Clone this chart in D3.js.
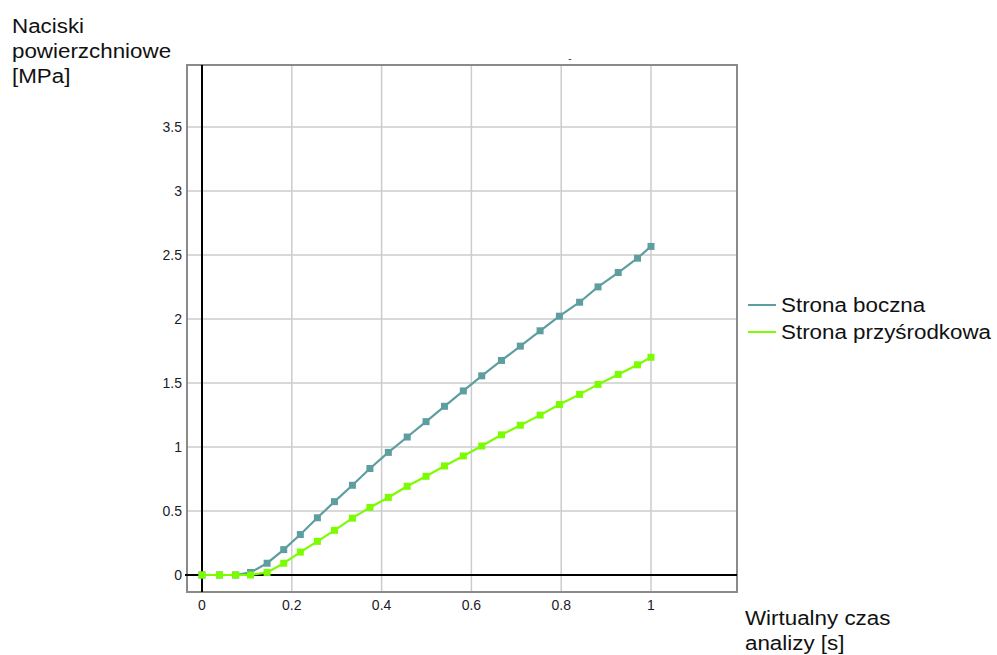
<!DOCTYPE html>
<html><head><meta charset="utf-8">
<script src="https://cdn.jsdelivr.net/npm/d3@7"></script>
<style>body{margin:0;background:#fff}svg{display:block}text{font-family:"Liberation Sans",Arial,sans-serif}</style>
</head><body>
<script>
const times = [0, 0.039, 0.075, 0.108, 0.145, 0.182, 0.219, 0.257, 0.295, 0.335, 0.374, 0.415, 0.457, 0.499, 0.540, 0.582, 0.623, 0.667, 0.709, 0.753, 0.796, 0.841, 0.882, 0.927, 0.970, 1.0];
const stronaBoczna = [0, 0, 0, 0.02, 0.092, 0.198, 0.316, 0.447, 0.573, 0.701, 0.832, 0.958, 1.078, 1.198, 1.318, 1.438, 1.556, 1.676, 1.788, 1.908, 2.022, 2.131, 2.251, 2.363, 2.475, 2.567];
const stronaPrzysrodkowa = [0, 0, 0, 0, 0.02, 0.092, 0.179, 0.263, 0.349, 0.444, 0.528, 0.606, 0.693, 0.771, 0.852, 0.930, 1.008, 1.095, 1.170, 1.249, 1.332, 1.411, 1.489, 1.567, 1.642, 1.701];
const seriesNames = ["Strona boczna", "Strona przyśrodkowa"];
const seriesColors = ["#5f9ea0", "#7cfc00"];
const xTicks = [0, 0.2, 0.4, 0.6, 0.8, 1];
const xTickLabels = ["0", "0.2", "0.4", "0.6", "0.8", "1"];
const yTicks = [0, 0.5, 1, 1.5, 2, 2.5, 3, 3.5];
const yTickLabels = ["0", "0.5", "1", "1.5", "2", "2.5", "3", "3.5"];
const yTitle = ["Naciski", "powierzchniowe", "[MPa]"];
const xTitle = ["Wirtualny czas", "analizy [s]"];

const W = 997, H = 655;
const frame = {left: 187, right: 737, top: 65, bottom: 592};
const x = d3.scaleLinear().domain([0, 1]).range([202, 651]);
const y = d3.scaleLinear().domain([0, 3.5]).range([575, 127]);
const SX = 1.065;

const svg = d3.select("body").append("svg").attr("width", W).attr("height", H);

// grid
svg.append("g").selectAll("line").data(xTicks.filter(d => d !== 0)).join("line")
  .attr("x1", d => x(d)).attr("x2", d => x(d)).attr("y1", frame.top).attr("y2", frame.bottom)
  .attr("stroke", "#cccccc").attr("stroke-width", 1.5);
svg.append("g").selectAll("line").data(yTicks.filter(d => d !== 0)).join("line")
  .attr("y1", d => y(d)).attr("y2", d => y(d)).attr("x1", frame.left).attr("x2", frame.right)
  .attr("stroke", "#cccccc").attr("stroke-width", 1.5);

// frame
svg.append("rect").attr("x", frame.left).attr("y", frame.top)
  .attr("width", frame.right - frame.left).attr("height", frame.bottom - frame.top)
  .attr("fill", "none").attr("stroke", "#8a8a8a").attr("stroke-width", 2);

// zero lines
svg.append("line").attr("x1", x(0)).attr("x2", x(0)).attr("y1", frame.top).attr("y2", frame.bottom)
  .attr("stroke", "#000").attr("stroke-width", 2);
svg.append("line").attr("x1", frame.left - 2).attr("x2", frame.right).attr("y1", y(0)).attr("y2", y(0))
  .attr("stroke", "#000").attr("stroke-width", 2);

// tick labels
svg.append("g").selectAll("text").data(yTicks).join("text")
  .attr("x", 182).attr("y", d => y(d)).attr("dy", "0.35em").attr("text-anchor", "end")
  .attr("font-size", 14).attr("fill", "#1a1a2a").text((d, i) => yTickLabels[i]);
svg.append("g").selectAll("text").data(xTicks).join("text")
  .attr("x", d => x(d)).attr("y", 610).attr("text-anchor", "middle")
  .attr("font-size", 14).attr("fill", "#1a1a2a").text((d, i) => xTickLabels[i]);

// small mark at top
svg.append("text").attr("x", 570).attr("y", 62).attr("font-size", 10).attr("fill", "#333").attr("text-anchor", "middle").text("-");

// series
const allSeries = [stronaBoczna, stronaPrzysrodkowa];
const line = d3.line().x(d => x(d[0])).y(d => y(d[1]));
allSeries.forEach((vals, si) => {
  const pts = times.map((t, i) => [t, vals[i]]);
  const g = svg.append("g");
  g.append("path").attr("d", line(pts)).attr("fill", "none")
    .attr("stroke", seriesColors[si]).attr("stroke-width", 2.2);
  g.selectAll("rect").data(pts).join("rect")
    .attr("x", d => x(d[0]) - 3.5).attr("y", d => y(d[1]) - 3.5)
    .attr("width", 7).attr("height", 7).attr("fill", seriesColors[si]);
});

// legend
const lg = svg.append("g");
seriesNames.forEach((n, i) => {
  const ly = 305 + i * 27;
  lg.append("line").attr("x1", 748).attr("x2", 776).attr("y1", ly).attr("y2", ly)
    .attr("stroke", seriesColors[i]).attr("stroke-width", 2);
  lg.append("text").attr("transform", `translate(781,${ly}) scale(${SX},1)`).attr("dy", "0.35em")
    .attr("font-size", 21).attr("fill", "#111").text(n);
});

// titles
svg.append("g").selectAll("text").data(yTitle).join("text")
  .attr("transform", (d, i) => `translate(12,${33 + i * 25}) scale(${SX},1)`)
  .attr("font-size", 21).attr("fill", "#111").text(d => d);
svg.append("g").selectAll("text").data(xTitle).join("text")
  .attr("transform", (d, i) => `translate(745,${625 + i * 25}) scale(${SX},1)`)
  .attr("font-size", 21).attr("fill", "#111").text(d => d);
</script>
</body></html>
